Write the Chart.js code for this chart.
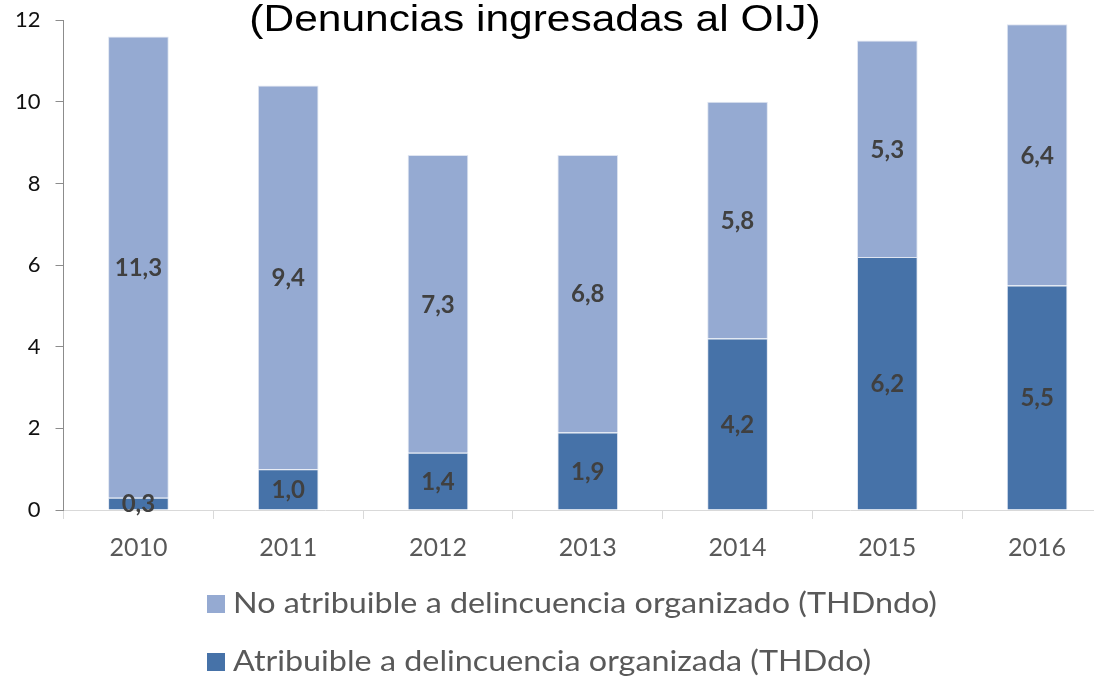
<!DOCTYPE html>
<html>
<head>
<meta charset="utf-8">
<script src="https://cdn.jsdelivr.net/npm/chart.js@4.4.0/dist/chart.umd.min.js"></script>
<style>
  html, body { margin: 0; padding: 0; background: #fff; overflow: hidden; }
  #wrap { position: relative; top: -8px; width: 1112px; height: 688px; }
</style>
</head>
<body>
<div id="wrap"><canvas id="chart"></canvas></div>
<script>
// Datos
const years = ['2010', '2011', '2012', '2013', '2014', '2015', '2016'];
const atribuible = [0.3, 1.0, 1.4, 1.9, 4.2, 6.2, 5.5];
const noAtribuible = [11.3, 9.4, 7.3, 6.8, 5.8, 5.3, 6.4];
const yTicks = [0, 2, 4, 6, 8, 10, 12];

const titleText = '(Denuncias ingresadas al OIJ)';
const darkBlue = '#4672A8';
const lightBlue = '#95AAD2';

// etiquetas de valores dentro de las barras
const valueLabels = {
    id: 'valueLabels',
    afterDatasetsDraw(chart) {
        const ctx = chart.ctx;
        ctx.save();
        ctx.font = 'bold 24px Lato';
        ctx.fillStyle = '#404040';
        ctx.textAlign = 'center';
        ctx.textBaseline = 'middle';
        chart.data.datasets.forEach((ds, i) => {
            chart.getDatasetMeta(i).data.forEach((bar, j) => {
                const v = ds.data[j];
                const y = (bar.y + bar.base) / 2;
                ctx.fillText(v.toFixed(1).replace('.', ','), bar.x, y + 1);
            });
        });
        ctx.restore();
    }
};

// título y leyenda dibujados a mano (el canvas está desplazado 8px hacia arriba)
const extras = {
    id: 'extras',
    afterDraw(chart) {
        const ctx = chart.ctx;
        ctx.save();
        ctx.font = '36px "Liberation Sans"';
        ctx.fillStyle = '#000';
        ctx.textAlign = 'center';
        ctx.textBaseline = 'alphabetic';
        ctx.translate(535, 39);
        ctx.scale(1.18, 1);
        ctx.fillText(titleText, 0, 0);
        ctx.restore();

        const items = [1, 0];
        const baselines = [621, 679];
        ctx.save();
        ctx.font = '28px Lato';
        ctx.textAlign = 'left';
        ctx.textBaseline = 'alphabetic';
        const firstW = ctx.measureText(chart.data.datasets[1].label).width;
        const sx = 704 / firstW;
        items.forEach((di, k) => {
            const ds = chart.data.datasets[di];
            ctx.fillStyle = ds.backgroundColor;
            ctx.fillRect(207, baselines[k] - 18, 18, 18);
            ctx.fillStyle = '#595959';
            ctx.save();
            ctx.translate(233, baselines[k]);
            ctx.scale(sx, 1);
            ctx.fillText(ds.label, 0, 0);
            ctx.restore();
        });
        ctx.restore();
    }
};

const chart = new Chart(document.getElementById('chart'), {
    type: 'bar',
    data: {
        labels: years,
        datasets: [
            {
                label: 'Atribuible a delincuencia organizada (THDdo)',
                data: atribuible,
                backgroundColor: darkBlue,
                borderColor: '#dfe5f1',
                borderWidth: 1,
                barPercentage: 0.405,
                categoryPercentage: 1
            },
            {
                label: 'No atribuible a delincuencia organizado (THDndo)',
                data: noAtribuible,
                backgroundColor: lightBlue,
                borderColor: '#dfe5f1',
                borderWidth: 1,
                barPercentage: 0.405,
                categoryPercentage: 1
            }
        ]
    },
    options: {
        responsive: true,
        maintainAspectRatio: false,
        animation: false,
        layout: { padding: { left: 0, top: 0, right: 0, bottom: 103 } },
        plugins: {
            legend: { display: false },
            tooltip: { enabled: false },
            title: { display: false }
        },
        scales: {
            x: {
                stacked: true,
                grid: {
                    display: true,
                    drawOnChartArea: false,
                    offset: true,
                    tickLength: 9,
                    color: '#d9d9d9'
                },
                border: { color: '#d9d9d9', width: 1 },
                ticks: {
                    color: '#595959',
                    font: { family: 'Lato', size: 25 },
                    padding: 14
                }
            },
            y: {
                stacked: true,
                min: 0,
                max: 12,
                afterBuildTicks(scale) {
                    scale.ticks = yTicks.map(v => ({ value: v }));
                },
                grid: {
                    display: true,
                    drawOnChartArea: false,
                    tickLength: 8,
                    color: '#8c8c8c'
                },
                border: { color: '#8c8c8c', width: 1 },
                ticks: {
                    color: '#111',
                    font: { family: 'Lato', size: 22 },
                    padding: 15
                }
            }
        }
    },
    plugins: [valueLabels, extras]
});
</script>
</body>
</html>
